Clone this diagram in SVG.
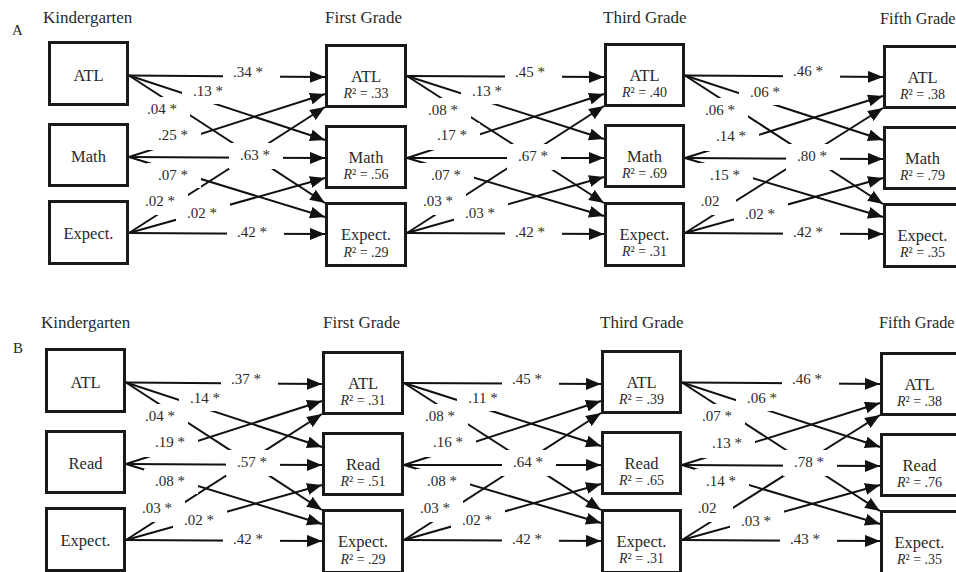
<svg xmlns="http://www.w3.org/2000/svg" width="956" height="572" viewBox="0 0 956 572" font-family="'Liberation Serif', 'Times New Roman', Times, 'DejaVu Serif', serif">
<style>
.box{fill:#fff;stroke:#1a1a1a;stroke-width:3}
.e{stroke:#111;stroke-width:2;fill:none;marker-end:url(#ah)}
text{font-family:'Liberation Serif','Times New Roman',Times,'DejaVu Serif',serif;fill:#2a2a2a}
.title{font-size:17px}
.nl{font-size:16.5px;text-anchor:middle}
.r2{font-size:14px;text-anchor:middle}
.lb{font-size:15px;text-anchor:middle}
.bg{fill:#fff}
.it{font-style:italic}
</style>
<defs>
<marker id="ah" markerUnits="userSpaceOnUse" markerWidth="15" markerHeight="12" viewBox="0 0 15 12" refX="15" refY="6" orient="auto"><path d="M0,0L15,6L0,12z" fill="#111"/></marker>
</defs>
<rect width="956" height="572" fill="#fff"/>
<text x="12" y="35" style="font-size:15px">A</text>
<text x="13" y="353" style="font-size:15px">B</text>

<!-- Panel A -->
<g id="panelA">
<text class="title" x="43" y="23">Kindergarten</text>
<text class="title" x="325" y="23">First Grade</text>
<text class="title" x="603" y="23">Third Grade</text>
<text class="title" x="880" y="24" style="font-size:16.3px">Fifth Grade</text>
<g id="A-connectors">
<path class="e" d="M129,75.5L325,77"/><path class="e" d="M129,75.5L325,140"/><path class="e" d="M129,75.5L325,203"/>
<path class="e" d="M129,157L325,94"/><path class="e" d="M129,157L325,158"/><path class="e" d="M129,157L325,217"/>
<path class="e" d="M129,233L325,107"/><path class="e" d="M129,233L325,178"/><path class="e" d="M129,233L325,234"/>
<path class="e" d="M407,76L604,77"/><path class="e" d="M407,76L604,139"/><path class="e" d="M407,76L604,203"/>
<path class="e" d="M407,158L604,94"/><path class="e" d="M407,158L604,158"/><path class="e" d="M407,158L604,216"/>
<path class="e" d="M407,233L604,106"/><path class="e" d="M407,233L604,177"/><path class="e" d="M407,233L604,234"/>
<path class="e" d="M685,75.5L883,77"/><path class="e" d="M685,75.5L883,140"/><path class="e" d="M685,75.5L883,204"/>
<path class="e" d="M685,158L883,96"/><path class="e" d="M685,158L883,159"/><path class="e" d="M685,158L883,217"/>
<path class="e" d="M685,233L883,108"/><path class="e" d="M685,233L883,178"/><path class="e" d="M685,233L883,234"/>
</g>
<g id="A-labels">
<rect class="bg" x="223" y="60" width="57" height="26"/><text class="lb" x="248" y="77">.34 *</text>
<rect class="bg" x="182" y="79" width="54" height="25"/><text class="lb" x="208" y="96">.13 *</text>
<rect class="bg" x="136" y="97" width="54" height="26"/><text class="lb" x="162" y="114">.04 *</text>
<rect class="bg" x="147" y="123" width="54" height="27"/><text class="lb" x="173" y="140">.25 *</text>
<rect class="bg" x="229" y="143" width="54" height="26"/><text class="lb" x="255" y="160">.63 *</text>
<rect class="bg" x="147" y="163" width="54" height="25"/><text class="lb" x="173" y="180">.07 *</text>
<rect class="bg" x="134" y="189" width="54" height="26"/><text class="lb" x="160" y="206">.02 *</text>
<rect class="bg" x="176" y="201" width="54" height="26"/><text class="lb" x="202" y="218">.02 *</text>
<rect class="bg" x="227" y="220" width="57" height="26"/><text class="lb" x="252" y="237">.42 *</text>

<rect class="bg" x="505" y="60" width="57" height="26"/><text class="lb" x="530" y="77">.45 *</text>
<rect class="bg" x="461" y="79" width="54" height="25"/><text class="lb" x="487" y="96">.13 *</text>
<rect class="bg" x="417" y="98" width="54" height="26"/><text class="lb" x="443" y="115">.08 *</text>
<rect class="bg" x="426" y="123" width="54" height="27"/><text class="lb" x="452" y="140">.17 *</text>
<rect class="bg" x="507" y="144" width="54" height="26"/><text class="lb" x="533" y="161">.67 *</text>
<rect class="bg" x="420" y="163" width="54" height="25"/><text class="lb" x="446" y="180">.07 *</text>
<rect class="bg" x="412" y="189" width="54" height="26"/><text class="lb" x="438" y="206">.03 *</text>
<rect class="bg" x="454" y="201" width="54" height="26"/><text class="lb" x="480" y="218">.03 *</text>
<rect class="bg" x="505" y="220" width="57" height="26"/><text class="lb" x="530" y="237">.42 *</text>

<rect class="bg" x="783" y="59" width="57" height="26"/><text class="lb" x="808" y="76">.46 *</text>
<rect class="bg" x="739" y="80" width="54" height="25"/><text class="lb" x="765" y="97">.06 *</text>
<rect class="bg" x="694" y="98" width="54" height="26"/><text class="lb" x="720" y="115">.06 *</text>
<rect class="bg" x="705" y="124" width="54" height="27"/><text class="lb" x="731" y="141">.14 *</text>
<rect class="bg" x="786" y="144" width="54" height="26"/><text class="lb" x="812" y="161">.80 *</text>
<rect class="bg" x="699" y="163" width="54" height="25"/><text class="lb" x="725" y="180">.15 *</text>
<rect class="bg" x="688" y="189" width="48" height="26"/><text class="lb" x="710" y="206">.02</text>
<rect class="bg" x="734" y="202" width="54" height="26"/><text class="lb" x="760" y="219">.02 *</text>
<rect class="bg" x="783" y="220" width="57" height="26"/><text class="lb" x="808" y="237">.42 *</text>
</g>
<g id="A-K-ATL"><rect class="box" x="49.5" y="42.5" width="78" height="62"/><text class="nl" x="88.5" y="81">ATL</text></g>
<g id="A-K-Math"><rect class="box" x="49.5" y="124.5" width="78" height="61"/><text class="nl" x="88.5" y="162">Math</text></g>
<g id="A-K-Expect"><rect class="box" x="49.5" y="201.5" width="78" height="62"/><text class="nl" x="88.5" y="239">Expect.</text></g>
<g id="A-1-ATL"><rect class="box" x="326.5" y="45.5" width="79" height="61"/><text class="nl" x="366" y="82">ATL</text><text class="r2" x="366" y="98"><tspan class="it">R</tspan>² = .33</text></g>
<g id="A-1-Math"><rect class="box" x="326.5" y="126.5" width="79" height="61"/><text class="nl" x="366" y="163">Math</text><text class="r2" x="366" y="179"><tspan class="it">R</tspan>² = .56</text></g>
<g id="A-1-Expect"><rect class="box" x="326.5" y="203.5" width="79" height="62"/><text class="nl" x="366" y="240">Expect.</text><text class="r2" x="366" y="257"><tspan class="it">R</tspan>² = .29</text></g>
<g id="A-3-ATL"><rect class="box" x="605.5" y="44.5" width="78" height="61"/><text class="nl" x="644.5" y="81">ATL</text><text class="r2" x="644.5" y="97"><tspan class="it">R</tspan>² = .40</text></g>
<g id="A-3-Math"><rect class="box" x="605.5" y="125.5" width="78" height="61"/><text class="nl" x="644.5" y="162">Math</text><text class="r2" x="644.5" y="178"><tspan class="it">R</tspan>² = .69</text></g>
<g id="A-3-Expect"><rect class="box" x="605.5" y="203.5" width="78" height="62"/><text class="nl" x="644.5" y="240">Expect.</text><text class="r2" x="644.5" y="256"><tspan class="it">R</tspan>² = .31</text></g>
<g id="A-5-ATL"><rect class="box" x="884.5" y="46.5" width="78" height="61"/><text class="nl" x="922.5" y="83">ATL</text><text class="r2" x="922.5" y="99"><tspan class="it">R</tspan>² = .38</text></g>
<g id="A-5-Math"><rect class="box" x="884.5" y="127.5" width="78" height="61"/><text class="nl" x="922.5" y="164">Math</text><text class="r2" x="922.5" y="180"><tspan class="it">R</tspan>² = .79</text></g>
<g id="A-5-Expect"><rect class="box" x="884.5" y="204.5" width="78" height="62"/><text class="nl" x="922.5" y="241">Expect.</text><text class="r2" x="922.5" y="257"><tspan class="it">R</tspan>² = .35</text></g>
</g>

<!-- Panel B -->
<g id="panelB" transform="translate(-3,307)">
<text class="title" x="44" y="21">Kindergarten</text>
<text class="title" x="326" y="21">First Grade</text>
<text class="title" x="603" y="21">Third Grade</text>
<text class="title" x="882" y="21" style="font-size:16.3px">Fifth Grade</text>
<g id="B-connectors">
<path class="e" d="M129,75.5L325,77"/><path class="e" d="M129,75.5L325,140"/><path class="e" d="M129,75.5L325,203"/>
<path class="e" d="M129,157L325,94"/><path class="e" d="M129,157L325,158"/><path class="e" d="M129,157L325,217"/>
<path class="e" d="M129,233L325,107"/><path class="e" d="M129,233L325,178"/><path class="e" d="M129,233L325,234"/>
<path class="e" d="M407,76L604,77"/><path class="e" d="M407,76L604,139"/><path class="e" d="M407,76L604,203"/>
<path class="e" d="M407,158L604,94"/><path class="e" d="M407,158L604,158"/><path class="e" d="M407,158L604,216"/>
<path class="e" d="M407,233L604,106"/><path class="e" d="M407,233L604,177"/><path class="e" d="M407,233L604,234"/>
<path class="e" d="M685,75.5L883,77"/><path class="e" d="M685,75.5L883,140"/><path class="e" d="M685,75.5L883,204"/>
<path class="e" d="M685,158L883,96"/><path class="e" d="M685,158L883,159"/><path class="e" d="M685,158L883,217"/>
<path class="e" d="M685,233L883,108"/><path class="e" d="M685,233L883,178"/><path class="e" d="M685,233L883,234"/>
</g>
<g id="B-labels">
<rect class="bg" x="224" y="60" width="57" height="26"/><text class="lb" x="249" y="77">.37 *</text>
<rect class="bg" x="182" y="79" width="54" height="25"/><text class="lb" x="208" y="96">.14 *</text>
<rect class="bg" x="137" y="97" width="54" height="26"/><text class="lb" x="163" y="114">.04 *</text>
<rect class="bg" x="147" y="123" width="54" height="27"/><text class="lb" x="173" y="140">.19 *</text>
<rect class="bg" x="229" y="143" width="54" height="26"/><text class="lb" x="255" y="160">.57 *</text>
<rect class="bg" x="147" y="162" width="54" height="25"/><text class="lb" x="173" y="179">.08 *</text>
<rect class="bg" x="134" y="189" width="54" height="26"/><text class="lb" x="160" y="206">.03 *</text>
<rect class="bg" x="176" y="201" width="54" height="26"/><text class="lb" x="202" y="218">.02 *</text>
<rect class="bg" x="226" y="220" width="57" height="26"/><text class="lb" x="251" y="237">.42 *</text>

<rect class="bg" x="505" y="60" width="57" height="26"/><text class="lb" x="530" y="77">.45 *</text>
<rect class="bg" x="460" y="79" width="54" height="25"/><text class="lb" x="486" y="96">.11 *</text>
<rect class="bg" x="417" y="97" width="54" height="26"/><text class="lb" x="443" y="114">.08 *</text>
<rect class="bg" x="425" y="123" width="54" height="27"/><text class="lb" x="451" y="140">.16 *</text>
<rect class="bg" x="505" y="143" width="54" height="26"/><text class="lb" x="531" y="160">.64 *</text>
<rect class="bg" x="419" y="162" width="54" height="25"/><text class="lb" x="445" y="179">.08 *</text>
<rect class="bg" x="412" y="189" width="54" height="26"/><text class="lb" x="438" y="206">.03 *</text>
<rect class="bg" x="454" y="201" width="54" height="26"/><text class="lb" x="480" y="218">.02 *</text>
<rect class="bg" x="505" y="220" width="57" height="26"/><text class="lb" x="530" y="237">.42 *</text>

<rect class="bg" x="785" y="60" width="57" height="26"/><text class="lb" x="810" y="77">.46 *</text>
<rect class="bg" x="739" y="79" width="54" height="25"/><text class="lb" x="765" y="96">.06 *</text>
<rect class="bg" x="694" y="97" width="54" height="26"/><text class="lb" x="720" y="114">.07 *</text>
<rect class="bg" x="704" y="124" width="54" height="27"/><text class="lb" x="730" y="141">.13 *</text>
<rect class="bg" x="786" y="143" width="54" height="26"/><text class="lb" x="812" y="160">.78 *</text>
<rect class="bg" x="698" y="162" width="54" height="25"/><text class="lb" x="724" y="179">.14 *</text>
<rect class="bg" x="688" y="189" width="48" height="26"/><text class="lb" x="710" y="206">.02</text>
<rect class="bg" x="733" y="202" width="54" height="26"/><text class="lb" x="759" y="219">.03 *</text>
<rect class="bg" x="783" y="220" width="57" height="26"/><text class="lb" x="808" y="237">.43 *</text>
</g>
<g id="B-K-ATL"><rect class="box" x="49.5" y="42.5" width="78" height="62"/><text class="nl" x="88.5" y="81">ATL</text></g>
<g id="B-K-Read"><rect class="box" x="49.5" y="124.5" width="78" height="61"/><text class="nl" x="88.5" y="162">Read</text></g>
<g id="B-K-Expect"><rect class="box" x="49.5" y="201.5" width="78" height="62"/><text class="nl" x="88.5" y="239">Expect.</text></g>
<g id="B-1-ATL"><rect class="box" x="326.5" y="45.5" width="79" height="61"/><text class="nl" x="366" y="82">ATL</text><text class="r2" x="366" y="98"><tspan class="it">R</tspan>² = .31</text></g>
<g id="B-1-Read"><rect class="box" x="326.5" y="126.5" width="79" height="61"/><text class="nl" x="366" y="163">Read</text><text class="r2" x="366" y="179"><tspan class="it">R</tspan>² = .51</text></g>
<g id="B-1-Expect"><rect class="box" x="326.5" y="203.5" width="79" height="62"/><text class="nl" x="366" y="240">Expect.</text><text class="r2" x="366" y="257"><tspan class="it">R</tspan>² = .29</text></g>
<g id="B-3-ATL"><rect class="box" x="605.5" y="44.5" width="78" height="61"/><text class="nl" x="644.5" y="81">ATL</text><text class="r2" x="644.5" y="97"><tspan class="it">R</tspan>² = .39</text></g>
<g id="B-3-Read"><rect class="box" x="605.5" y="125.5" width="78" height="61"/><text class="nl" x="644.5" y="162">Read</text><text class="r2" x="644.5" y="178"><tspan class="it">R</tspan>² = .65</text></g>
<g id="B-3-Expect"><rect class="box" x="605.5" y="203.5" width="78" height="62"/><text class="nl" x="644.5" y="240">Expect.</text><text class="r2" x="644.5" y="256"><tspan class="it">R</tspan>² = .31</text></g>
<g id="B-5-ATL"><rect class="box" x="884.5" y="46.5" width="78" height="61"/><text class="nl" x="922.5" y="83">ATL</text><text class="r2" x="922.5" y="99"><tspan class="it">R</tspan>² = .38</text></g>
<g id="B-5-Read"><rect class="box" x="884.5" y="127.5" width="78" height="61"/><text class="nl" x="922.5" y="164">Read</text><text class="r2" x="922.5" y="180"><tspan class="it">R</tspan>² = .76</text></g>
<g id="B-5-Expect"><rect class="box" x="884.5" y="204.5" width="78" height="62"/><text class="nl" x="922.5" y="241">Expect.</text><text class="r2" x="922.5" y="257"><tspan class="it">R</tspan>² = .35</text></g>
</g>
</svg>
